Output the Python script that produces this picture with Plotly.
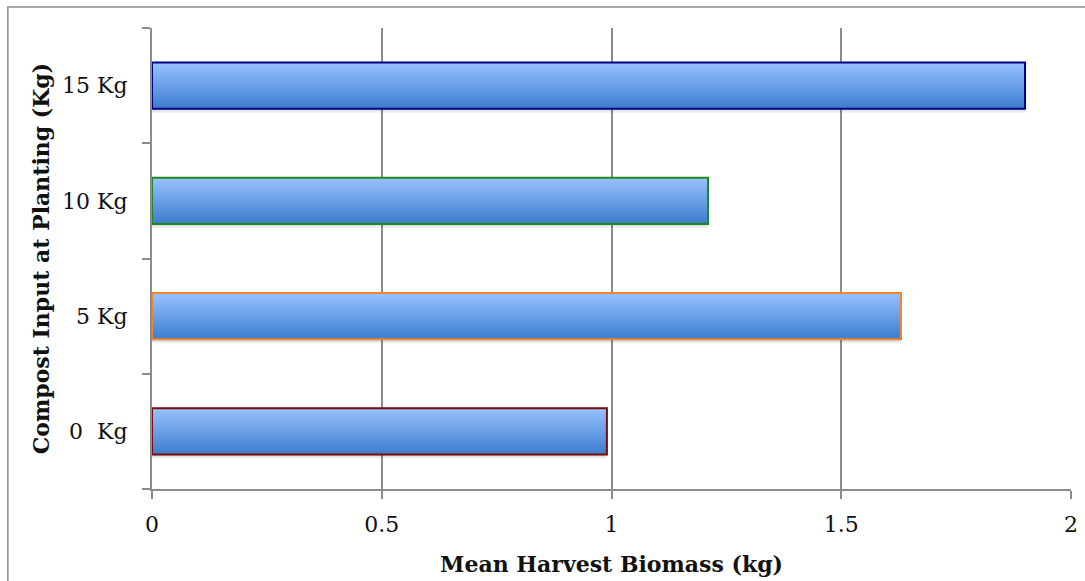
import plotly.graph_objects as go

categories = ["0\u00a0 Kg", "5 Kg", "10 Kg", "15 Kg"]
biomass = [0.99, 1.63, 1.21, 1.90]
outline_colors = ["#7f0a0a", "#f5832a", "#1f8a1f", "#00008f"]
x_ticks = [0, 0.5, 1, 1.5, 2]
x_tick_labels = ["0", "0.5", "1", "1.5", "2"]

FONT = "DejaVu Serif"
BAR_W = 0.4
N_STRIPS = 24
top_rgb = (150, 192, 255)
bot_rgb = (62, 126, 206)

fig = go.Figure()

# soft shadow below bars
for k, a in enumerate([0.20, 0.11, 0.05]):
    fig.add_trace(go.Bar(
        y=categories, x=biomass, orientation="h",
        width=0.012, offset=-BAR_W / 2 - 0.012 * (k + 1),
        marker=dict(color=f"rgba(0,0,0,{a})", line=dict(width=0)),
        hoverinfo="skip", showlegend=False,
    ))

# gradient fill: nested bars, each from its start up to the bar top
sw = BAR_W / N_STRIPS
for i in range(N_STRIPS):
    t = i / (N_STRIPS - 1)  # 0 bottom -> 1 top
    r = round(bot_rgb[0] + (top_rgb[0] - bot_rgb[0]) * t)
    g = round(bot_rgb[1] + (top_rgb[1] - bot_rgb[1]) * t)
    b = round(bot_rgb[2] + (top_rgb[2] - bot_rgb[2]) * t)
    fig.add_trace(go.Bar(
        y=categories, x=biomass, orientation="h",
        width=BAR_W - i * sw, offset=-BAR_W / 2 + i * sw,
        marker=dict(color=f"rgb({r},{g},{b})", line=dict(width=0)),
        hoverinfo="skip", showlegend=False,
    ))

# outlines
fig.add_trace(go.Bar(
    y=categories, x=biomass, orientation="h",
    width=BAR_W, offset=-BAR_W / 2,
    marker=dict(color="rgba(0,0,0,0)", line=dict(color=outline_colors, width=2)),
    showlegend=False,
))

fig.update_layout(
    width=1085, height=581,
    margin=dict(l=152, r=14, t=28, b=92),
    paper_bgcolor="white", plot_bgcolor="white",
    barmode="overlay",
    font=dict(family=FONT, size=22, color="#111"),
    showlegend=False,
    xaxis=dict(
        range=[0, 2], tickvals=x_ticks, ticktext=x_tick_labels,
        automargin=False,
        showgrid=True, gridcolor="#8c8c8c", gridwidth=2,
        showline=True, linecolor="#8c8c8c", linewidth=2,
        ticks="outside", ticklen=8, tickcolor="#8c8c8c", tickwidth=2,
        tickfont=dict(family=FONT, size=22, color="#111"),
        ticklabelstandoff=7,
        zeroline=False,
        title=dict(text="<b>Mean Harvest Biomass (kg)</b>", font=dict(family=FONT, size=22, color="#111"), standoff=20),
    ),
    yaxis=dict(
        categoryorder="array", categoryarray=categories,
        range=[-0.5, 3.5],
        automargin=False,
        showgrid=False,
        showline=True, linecolor="#8c8c8c", linewidth=2,
        ticks="outside", ticklen=8, tickcolor="#8c8c8c", tickwidth=2,
        tickson="boundaries",
        tickfont=dict(family=FONT, size=22, color="#111"),
        ticklabelstandoff=18,
        title=dict(text="<b>Compost Input at Planting (Kg)</b>", font=dict(family=FONT, size=22, color="#111"), standoff=6),
    ),
    shapes=[dict(type="rect", xref="paper", yref="paper",
                 x0=(8 - 152) / 918, x1=1.1, y0=-0.5, y1=(489 - 7) / 461,
                 line=dict(color="#8c8c8c", width=1.5), layer="below")],
)

fig.write_html("out.html")
